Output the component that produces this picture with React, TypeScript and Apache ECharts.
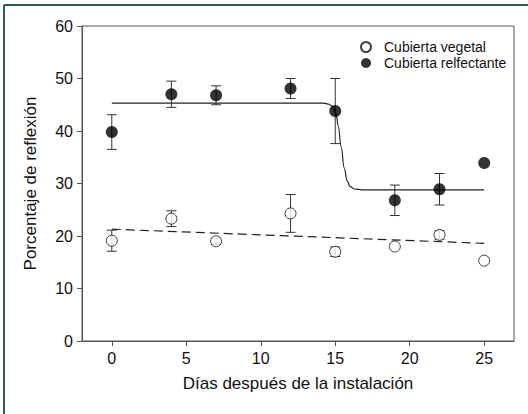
import React, { useEffect, useRef } from "react";
import * as echarts from "echarts";

const xTicks = [0, 5, 10, 15, 20, 25];
const yTicks = [0, 10, 20, 30, 40, 50, 60];

const days = [0, 4, 7, 12, 15, 19, 22, 25];
const vegetal = [19.1, 23.3, 19.0, 24.3, 17.0, 18.0, 20.2, 15.3];
const vegetalErr = [2.0, 1.5, 0.6, 3.6, 0.9, 0, 0.8, 0];
const reflectante = [39.8, 47.0, 46.8, 48.1, 43.8, 26.8, 28.9, 33.9];
const reflectanteErr = [3.3, 2.5, 1.8, 1.9, 6.2, 2.9, 3.0, 0];

const vegetalFit = [
  [0, 21.3],
  [25, 18.6],
];
const reflectanteFit = [
  [0, 45.3],
  [14.2, 45.3],
  [14.6, 45.1],
  [14.85, 44.6],
  [15.05, 43.3],
  [15.2, 41.0],
  [15.4, 37.0],
  [15.6, 33.0],
  [15.8, 30.5],
  [16.0, 29.4],
  [16.3, 28.95],
  [16.8, 28.8],
  [25, 28.8],
];

const FONT = "Liberation Sans, Arial, sans-serif";
const TXT = "#111";

function errData(vals: number[], errs: number[]) {
  return days
    .map((d, i) => [d, vals[i] - errs[i], vals[i] + errs[i]])
    .filter((r, i) => errs[i] > 0);
}

function errSeries(vals: number[], errs: number[]) {
  return {
    type: "custom",
    silent: true,
    z: 1,
    data: errData(vals, errs),
    renderItem: (params: any, api: any) => {
      const x = api.value(0);
      const lo = api.coord([x, api.value(1)]);
      const hi = api.coord([x, api.value(2)]);
      const w = 5;
      const style = { stroke: "#333", lineWidth: 1 };
      return {
        type: "group",
        children: [
          { type: "line", shape: { x1: lo[0], y1: lo[1], x2: hi[0], y2: hi[1] }, style },
          { type: "line", shape: { x1: lo[0] - w, y1: lo[1], x2: lo[0] + w, y2: lo[1] }, style },
          { type: "line", shape: { x1: hi[0] - w, y1: hi[1], x2: hi[0] + w, y2: hi[1] }, style },
        ],
      };
    },
  };
}

export default function App() {
  const ref = useRef<HTMLDivElement>(null);
  useEffect(() => {
    const chart = echarts.init(ref.current!, null, { renderer: "svg" });
    chart.setOption({
      animation: false,
      backgroundColor: "#fff",
      textStyle: { fontFamily: FONT },
      grid: {
        left: 82,
        right: 14,
        top: 26,
        bottom: 73,
        show: true,
        borderColor: "#555",
        borderWidth: 1,
      },
      legend: {
        left: 355,
        top: 35,
        orient: "vertical",
        itemWidth: 10,
        itemHeight: 10,
        itemGap: 2,
        textStyle: { fontFamily: FONT, fontSize: 14, color: TXT, padding: [0, 0, 0, 8] },
        data: ["Cubierta vegetal", "Cubierta relfectante"],
      },
      xAxis: {
        type: "value",
        min: -2,
        max: 27,
        name: "Días después de la instalación",
        nameLocation: "middle",
        nameGap: 34,
        nameTextStyle: { fontFamily: FONT, fontSize: 17, color: TXT },
        axisLine: { show: true, onZero: false, lineStyle: { color: "#555" } },
        axisTick: { show: true, length: 5, inside: false, customValues: xTicks, lineStyle: { color: "#555" } },
        axisLabel: { customValues: xTicks, margin: 9, fontSize: 16, color: TXT, fontFamily: FONT },
        splitLine: { show: false },
      },
      yAxis: {
        type: "value",
        min: 0,
        max: 60,
        interval: 10,
        name: "Porcentaje de reflexión",
        nameLocation: "middle",
        nameGap: 43,
        nameTextStyle: { fontFamily: FONT, fontSize: 17, color: TXT },
        axisLine: { show: true, onZero: false, lineStyle: { color: "#555" } },
        axisTick: { show: true, length: 5, inside: false, lineStyle: { color: "#555" } },
        axisLabel: { margin: 9, fontSize: 16, color: TXT, fontFamily: FONT },
        splitLine: { show: false },
      },
      series: [
        errSeries(vegetal, vegetalErr),
        errSeries(reflectante, reflectanteErr),
        {
          type: "line",
          data: vegetalFit,
          showSymbol: false,
          silent: true,
          z: 2,
          lineStyle: { color: "#222", width: 1.2, type: [9, 5] },
        },
        {
          type: "line",
          data: reflectanteFit,
          showSymbol: false,
          silent: true,
          smooth: 0.4,
          smoothMonotone: "x",
          z: 2,
          lineStyle: { color: "#222", width: 1.2 },
        },
        {
          name: "Cubierta vegetal",
          type: "scatter",
          z: 3,
          symbol: "circle",
          symbolSize: 11,
          data: days.map((d, i) => [d, vegetal[i]]),
          itemStyle: { color: "#fff", borderColor: "#111", borderWidth: 1 },
        },
        {
          name: "Cubierta relfectante",
          type: "scatter",
          z: 3,
          symbol: "circle",
          symbolSize: 12,
          data: days.map((d, i) => [d, reflectante[i]]),
          itemStyle: { color: "#000" },
        },
      ],
      graphic: [
        { type: "line", shape: { x1: 4, y1: 5, x2: 528, y2: 5 }, style: { stroke: "#2e5a4a", lineWidth: 2 } },
        { type: "line", shape: { x1: 4, y1: 5, x2: 4, y2: 414 }, style: { stroke: "#2e5a4a", lineWidth: 2 } },
      ],
    });
    return () => chart.dispose();
  }, []);
  return <div ref={ref} style={{ width: 528, height: 414, position: "absolute", left: 0, top: 0 }} />;
}
